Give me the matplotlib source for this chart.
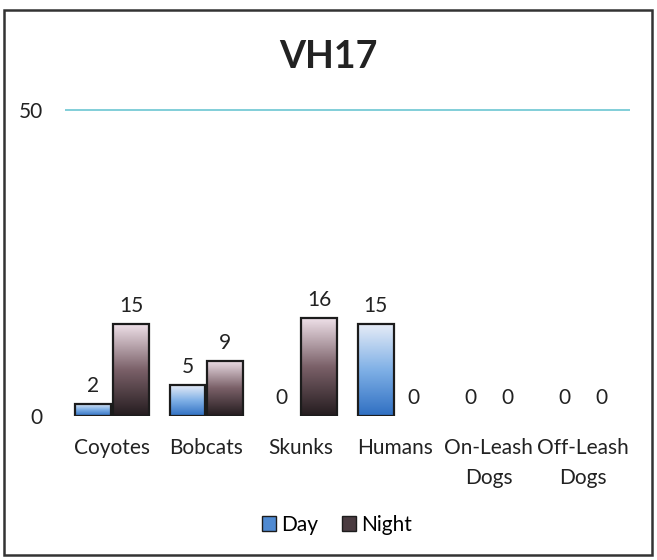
import matplotlib.pyplot as plt
import numpy as np
from matplotlib.colors import LinearSegmentedColormap
from matplotlib.patches import Rectangle, Patch

plt.rcParams['font.family'] = ['Lato', 'DejaVu Sans']

categories = ['Coyotes', 'Bobcats', 'Skunks', 'Humans', 'On-Leash\nDogs', 'Off-Leash\nDogs']
day = [2, 5, 0, 15, 0, 0]
night = [15, 9, 16, 0, 0, 0]

day_cmap = LinearSegmentedColormap.from_list('day', ['#2f6fc2', '#7fb0e6', '#e6ecf7'])
night_cmap = LinearSegmentedColormap.from_list('night', ['#241c1f', '#7a6068', '#eee0e8'])

fig = plt.figure(figsize=(6.57, 5.60), dpi=100)
ax = fig.add_axes([0.099, 0.257, 0.860, 0.568])

x = np.arange(len(categories))
w = 0.4
grad = np.linspace(0, 1, 256).reshape(-1, 1)

def gradient_bars(xs, vals, cmap):
    for xi, v in zip(xs, vals):
        if v > 0:
            b = ax.bar(xi, v, w * 0.95, facecolor='none', edgecolor='#1c1c1c',
                       linewidth=1.6, zorder=3)[0]
            bx, by = b.get_x(), b.get_y()
            im = ax.imshow(grad, cmap=cmap, aspect='auto', origin='lower',
                           extent=[bx, bx + b.get_width(), by, by + b.get_height()], zorder=2)
            im.set_clip_path(b)
        ax.annotate(str(v), (xi, v), xytext=(0, 6), textcoords='offset points',
                    ha='center', va='bottom', fontsize=15, color='#222222')

gradient_bars(x - w / 2, day, day_cmap)
gradient_bars(x + w / 2, night, night_cmap)

ax.set_xlim(-0.5, len(categories) - 0.5)
ax.set_ylim(0, 52)
ax.set_yticks([0, 50])
ax.axhline(50, color='#6cc6d2', linewidth=1.2, zorder=1)
ax.set_xticks(x)
ax.set_xticklabels(categories, fontsize=15, color='#222222', linespacing=1.6)
ax.tick_params(axis='x', length=0, pad=16)
ax.tick_params(axis='y', length=0, pad=16, labelsize=15, labelcolor='#222222')
for s in ax.spines.values():
    s.set_visible(False)

fig.text(328 / 657, 1 - 57 / 560, 'VH17', ha='center', va='center',
         fontsize=27, fontweight='bold', color='#222222')

handles = [Patch(facecolor='#4f8ad2', edgecolor='#1c1c1c', label='Day'),
           Patch(facecolor='#4a3b40', edgecolor='#1c1c1c', label='Night')]
fig.legend(handles=handles, loc='center', bbox_to_anchor=(337 / 657, 1 - 525 / 560),
           ncol=2, frameon=False, fontsize=15, handlelength=0.7, handleheight=0.7,
           handletextpad=0.25, columnspacing=1.1)

fig.patches.append(Rectangle((4 / 657, 1 - 555 / 560), 648 / 657, 545 / 560,
                             transform=fig.transFigure, fill=False,
                             edgecolor='#333333', linewidth=1.8))

fig.savefig('out.png', dpi=100)
